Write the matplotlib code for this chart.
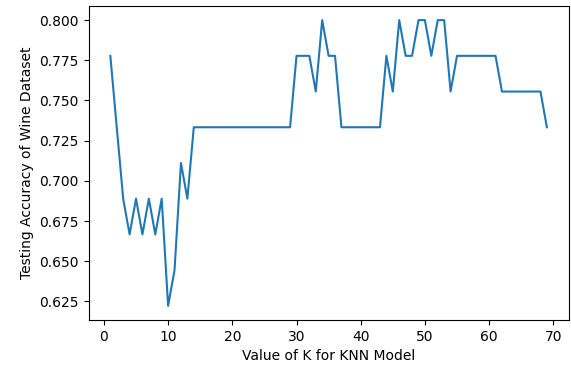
import matplotlib
matplotlib.use("Agg")
import numpy as np
from matplotlib import pyplot as plt

# accuracy as count of correct predictions out of 45 test samples
kValues = list(range(1, 70))
correctCounts = [35, 33, 31, 30, 31, 30, 31, 30, 31, 28,
                 29, 32, 31, 33, 33, 33, 33, 33, 33, 33,
                 33, 33, 33, 33, 33, 33, 33, 33, 33, 35,
                 35, 35, 34, 36, 35, 35, 33, 33, 33, 33,
                 33, 33, 33, 35, 34, 36, 35, 35, 36, 36,
                 35, 36, 36, 34, 35, 35, 35, 35, 35, 35,
                 35, 34, 34, 34, 34, 34, 34, 34, 33]
scores = np.array(correctCounts) / 45

figure = plt.figure(figsize=(5.71, 3.65), dpi=100)
ax = figure.add_axes([0.155, 0.123, 0.841, 0.861])
ax.plot(kValues, scores)
ax.set_xlabel("Value of K for KNN Model")
ax.set_ylabel("Testing Accuracy of Wine Dataset")

plt.savefig("out.png")
